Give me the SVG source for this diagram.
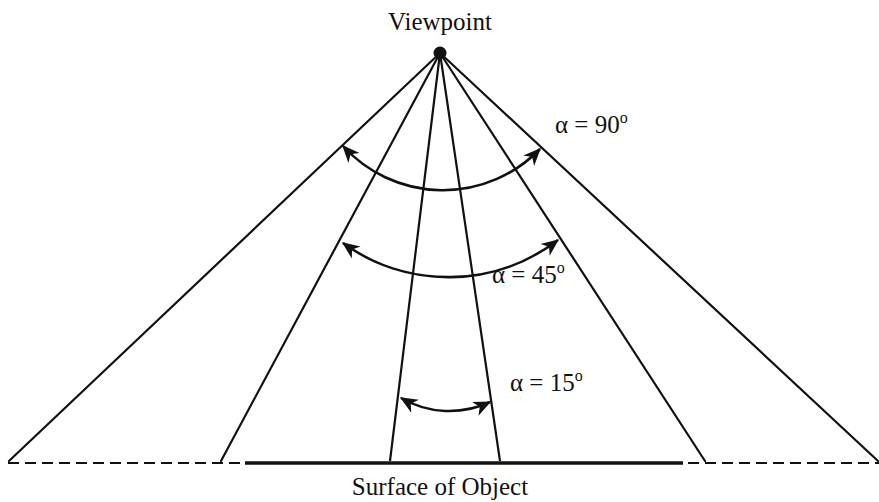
<svg xmlns="http://www.w3.org/2000/svg" width="879" height="502" viewBox="0 0 879 502">
<style>
.ray{stroke:#111;stroke-width:2.2;fill:none;stroke-linecap:round}
.arc{stroke:#111;stroke-width:2.6;fill:none}
.lbl{font-family:"Liberation Serif","Times New Roman",serif;font-size:25px;fill:#111}
</style>
<defs>
<marker id="ah" markerUnits="userSpaceOnUse" markerWidth="20" markerHeight="20" viewBox="-14 -8 16 16" refX="0" refY="0" orient="auto-start-reverse">
<path d="M1,0 L-13,-6 L-9,0 L-13,6 Z" fill="#111"/>
</marker>
</defs>
<rect width="879" height="502" fill="#fff"/>
<g id="viewpoint">
<circle cx="440" cy="53" r="6.5" fill="#111"/>
<text class="lbl" x="440" y="30" text-anchor="middle">Viewpoint</text>
</g>
<g id="connectors">
<line class="ray" x1="440" y1="53" x2="9" y2="461"/>
<line class="ray" x1="440" y1="53" x2="221" y2="461"/>
<line class="ray" x1="440" y1="53" x2="390" y2="461"/>
<line class="ray" x1="440" y1="53" x2="500" y2="461"/>
<line class="ray" x1="440" y1="53" x2="705" y2="461"/>
<line class="ray" x1="440" y1="53" x2="878" y2="461"/>
<line x1="8" y1="463" x2="879" y2="463" stroke="#111" stroke-width="2.2" stroke-dasharray="11,6"/>
</g>
<g id="surface">
<rect x="242" y="461" width="442" height="4" fill="#fff"/>
<line x1="245" y1="463" x2="683" y2="463" stroke="#111" stroke-width="3.6"/>
<text class="lbl" x="440" y="495" text-anchor="middle">Surface of Object</text>
</g>
<g id="angle90">
<path class="arc" d="M343,146 A135,135 0 0 0 540,149" marker-start="url(#ah)" marker-end="url(#ah)"/>
<text class="lbl" x="555" y="133">α = 90<tspan font-size="16" dy="-10">o</tspan></text>
</g>
<g id="angle45">
<path class="arc" d="M343,243 A180,180 0 0 0 558,240" marker-start="url(#ah)" marker-end="url(#ah)"/>
<text class="lbl" x="492" y="283">α = 45<tspan font-size="16" dy="-10">o</tspan></text>
</g>
<g id="angle15">
<path class="arc" d="M401,398 A96,96 0 0 0 490,402" marker-start="url(#ah)" marker-end="url(#ah)"/>
<text class="lbl" x="510" y="391">α = 15<tspan font-size="16" dy="-10">o</tspan></text>
</g>
</svg>
